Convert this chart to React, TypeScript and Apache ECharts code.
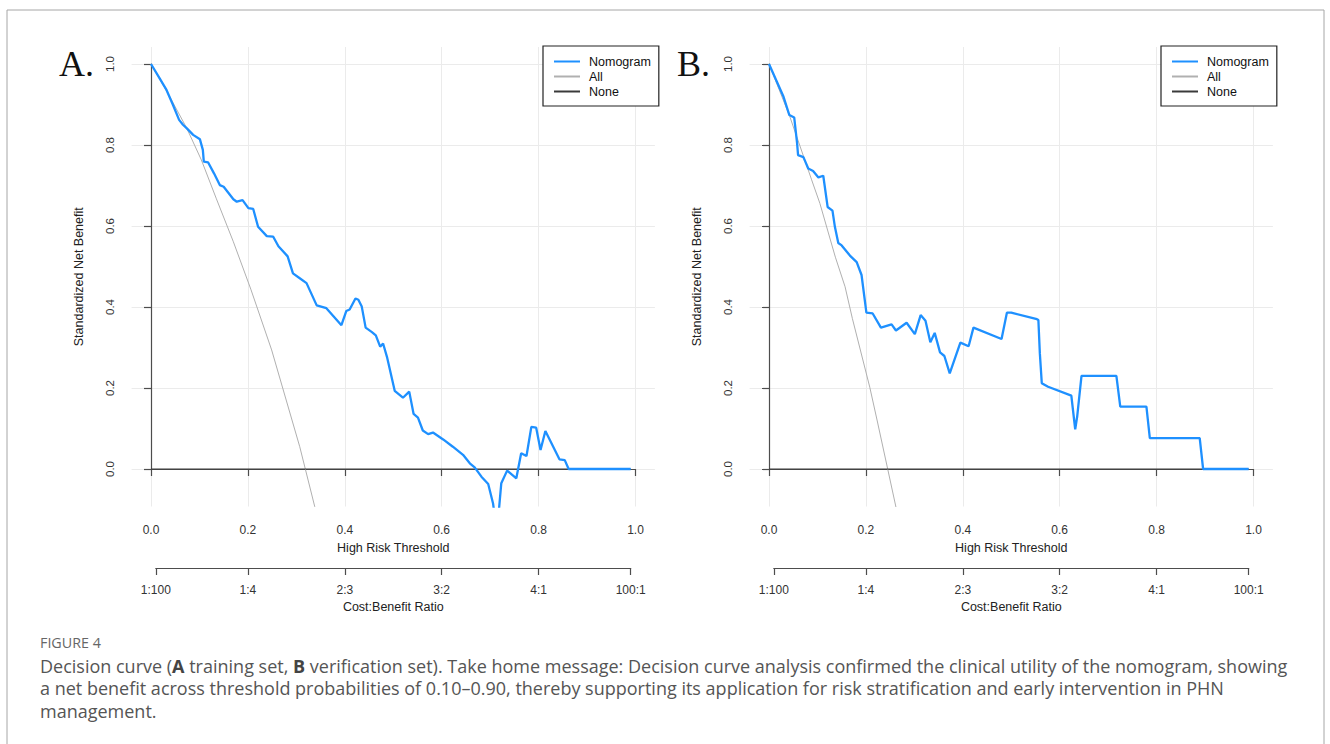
import React, { useEffect, useRef } from "react";
import * as echarts from "echarts";

// ---------- data ----------
const xTickValues = [0, 0.2, 0.4, 0.6, 0.8, 1.0];
const yTickValues = [0, 0.2, 0.4, 0.6, 0.8, 1.0];
const costPositions = [1 / 101, 0.2, 0.4, 0.6, 0.8, 100 / 101];
const costLabels = ["1:100", "1:4", "2:3", "3:2", "4:1", "100:1"];
const seriesNames = ["Nomogram", "All", "None"];

// Panel A (training set): [threshold, standardized net benefit]
const nomogramA: [number, number][] = [
  [0, 1.0], [0.016, 0.968], [0.032, 0.936], [0.045, 0.9], [0.058, 0.862], [0.066, 0.85],
  [0.074, 0.841], [0.087, 0.825], [0.101, 0.814], [0.107, 0.788], [0.109, 0.759], [0.118, 0.757],
  [0.13, 0.73], [0.142, 0.701], [0.15, 0.697], [0.17, 0.666], [0.177, 0.66], [0.189, 0.664],
  [0.201, 0.644], [0.211, 0.642], [0.221, 0.598], [0.239, 0.575], [0.252, 0.574], [0.263, 0.55],
  [0.282, 0.525], [0.293, 0.483], [0.307, 0.471], [0.321, 0.459], [0.342, 0.404], [0.362, 0.397],
  [0.393, 0.355], [0.403, 0.39], [0.41, 0.394], [0.422, 0.421], [0.428, 0.418], [0.435, 0.401],
  [0.443, 0.349], [0.456, 0.338], [0.464, 0.33], [0.473, 0.302], [0.479, 0.31], [0.487, 0.277],
  [0.503, 0.193], [0.52, 0.176], [0.533, 0.191], [0.542, 0.136], [0.551, 0.127], [0.561, 0.095],
  [0.572, 0.086], [0.582, 0.09], [0.603, 0.073], [0.623, 0.055], [0.644, 0.035], [0.658, 0.014],
  [0.668, 0.004], [0.682, -0.019], [0.696, -0.037], [0.706, -0.085], [0.711, -0.13], [0.716, -0.13],
  [0.723, -0.035], [0.735, -0.004], [0.754, -0.023], [0.764, 0.039], [0.775, 0.032], [0.785, 0.104],
  [0.795, 0.102], [0.804, 0.047], [0.814, 0.094], [0.843, 0.024], [0.854, 0.022], [0.862, 0.0],
  [0.99, 0.0],
];
const treatAllA: [number, number][] = [
  [0, 1.0], [0.037, 0.923], [0.074, 0.841], [0.104, 0.763], [0.135, 0.667], [0.17, 0.561],
  [0.206, 0.444], [0.249, 0.294], [0.307, 0.055], [0.338, -0.093], [0.345, -0.125],
];

// Panel B (verification set)
const nomogramB: [number, number][] = [
  [0, 1.0], [0.03, 0.919], [0.042, 0.874], [0.052, 0.868], [0.058, 0.804], [0.06, 0.775],
  [0.071, 0.77], [0.081, 0.742], [0.091, 0.736], [0.102, 0.72], [0.112, 0.724], [0.121, 0.647],
  [0.131, 0.638], [0.136, 0.598], [0.143, 0.558], [0.15, 0.552], [0.167, 0.527], [0.181, 0.511],
  [0.191, 0.479], [0.201, 0.386], [0.214, 0.384], [0.231, 0.349], [0.253, 0.357], [0.262, 0.342],
  [0.284, 0.361], [0.301, 0.333], [0.313, 0.38], [0.323, 0.366], [0.333, 0.313], [0.342, 0.336],
  [0.353, 0.288], [0.362, 0.279], [0.373, 0.236], [0.395, 0.312], [0.412, 0.303], [0.422, 0.349],
  [0.48, 0.321], [0.491, 0.386], [0.5, 0.386], [0.553, 0.37], [0.556, 0.368], [0.559, 0.286],
  [0.563, 0.212], [0.576, 0.203], [0.624, 0.181], [0.629, 0.129], [0.632, 0.098], [0.636, 0.129],
  [0.645, 0.23], [0.717, 0.23], [0.725, 0.154], [0.779, 0.154], [0.786, 0.076], [0.889, 0.076],
  [0.896, 0.0], [0.99, 0.0],
];
const treatAllB: [number, number][] = [
  [0, 1.0], [0.043, 0.87], [0.088, 0.714], [0.105, 0.656], [0.137, 0.523], [0.157, 0.45],
  [0.172, 0.372], [0.208, 0.202], [0.223, 0.121], [0.245, 0.0], [0.262, -0.094], [0.268, -0.13],
];

const treatNone: [number, number][] = [[0, 0], [0.99, 0]];

const captionTitle = "FIGURE 4";
const captionLines = [
  "Decision curve ({b|A} training set, {b|B} verification set). Take home message: Decision curve analysis confirmed the clinical utility of the nomogram, showing",
  "a net benefit across threshold probabilities of 0.10–0.90, thereby supporting its application for risk stratification and early intervention in PHN",
  "management.",
];

// ---------- layout ----------
const PX = 484.5; // px per unit threshold
const PY = 405; // px per unit net benefit
const X0A = 151;
const DX_B = 618;
const Y0 = 469;
const X_MIN = -0.04;
const X_MAX = 1.04;
const Y_MIN = -0.0926;
const Y_MAX = 1.042;
const COST_AXIS_Y = 568;
const FONT = "'Liberation Sans', Arial, sans-serif";
const AXIS_COLOR = "#4d4d4d";
const GRID_COLOR = "#ebebeb";

function buildPanel(i: number, x0: number, nom: [number, number][], all: [number, number][]) {
  const base = i * 4;
  const plotTop = Y0 - Y_MAX * PY;
  const plotH = (Y_MAX - Y_MIN) * PY;
  const plotLeft = x0 + X_MIN * PX;
  const plotW = (X_MAX - X_MIN) * PX;
  const grids = [
    { left: plotLeft, top: plotTop, width: plotW, height: plotH },
    { left: x0, top: plotTop, width: PX, height: plotH },
    { left: plotLeft, top: Y0 - PY, width: plotW, height: PY },
    {
      left: x0 + costPositions[0] * PX,
      top: COST_AXIS_Y - 1,
      width: (costPositions[costPositions.length - 1] - costPositions[0]) * PX,
      height: 1,
    },
  ];
  const axisLine = { show: true, lineStyle: { color: AXIS_COLOR, width: 1.2 } };
  const axisTick = { show: true, length: 7, lineStyle: { color: AXIS_COLOR, width: 1.2 } };
  const labelBase = { color: "#333", fontFamily: FONT, fontSize: 12 };
  const nameStyle = { color: "#222", fontFamily: FONT, fontSize: 12.5 };
  const xAxes = [
    { gridIndex: base, type: "value", min: X_MIN, max: X_MAX, show: false },
    {
      gridIndex: base + 1, type: "value", min: xTickValues[0], max: xTickValues[xTickValues.length - 1], interval: 0.2,
      axisLine, axisTick,
      axisLabel: { ...labelBase, margin: 17, formatter: (v: number) => v.toFixed(1) },
      splitLine: { show: true, lineStyle: { color: GRID_COLOR, width: 1 } },
      name: "High Risk Threshold", nameLocation: "middle", nameGap: 35, nameTextStyle: nameStyle,
    },
    { gridIndex: base + 2, type: "value", min: X_MIN, max: X_MAX, show: false },
    {
      gridIndex: base + 3, type: "value", min: costPositions[0], max: costPositions[costPositions.length - 1],
      axisLine,
      axisTick: { ...axisTick, customValues: costPositions },
      axisLabel: {
        ...labelBase, margin: 16, customValues: costPositions,
        formatter: (v: number) => {
          let best = 0;
          costPositions.forEach((p, k) => { if (Math.abs(p - v) < Math.abs(costPositions[best] - v)) best = k; });
          return costLabels[best];
        },
      },
      splitLine: { show: false },
      name: "Cost:Benefit Ratio", nameLocation: "middle", nameGap: 32, nameTextStyle: nameStyle,
    },
  ];
  const yAxes = [
    {
      gridIndex: base, type: "value", min: Y_MIN, max: Y_MAX,
      axisLine: { show: false }, axisTick: { show: false }, axisLabel: { show: false }, splitLine: { show: false },
      name: "Standardized Net Benefit", nameLocation: "middle", nameGap: 46, nameRotate: 90, nameTextStyle: nameStyle,
    },
    { gridIndex: base + 1, type: "value", min: Y_MIN, max: Y_MAX, show: false },
    {
      gridIndex: base + 2, type: "value", min: yTickValues[0], max: yTickValues[yTickValues.length - 1], interval: 0.2,
      axisLine, axisTick,
      axisLabel: { ...labelBase, fontSize: 11.5, rotate: 90, margin: 16, formatter: (v: number) => v.toFixed(1) },
      splitLine: { show: true, lineStyle: { color: GRID_COLOR, width: 1 } },
    },
    { gridIndex: base + 3, type: "value", min: 0, max: 1, show: false },
  ];
  const common = { type: "line", xAxisIndex: base, yAxisIndex: base, symbol: "none", showSymbol: false, clip: true, silent: true };
  const series = [
    { ...common, name: seriesNames[1], data: all, lineStyle: { color: "#b0b0b0", width: 1 }, itemStyle: { color: "#b0b0b0" } },
    { ...common, name: seriesNames[2], data: treatNone, lineStyle: { color: "#3a3a3a", width: 1.2 }, itemStyle: { color: "#3a3a3a" } },
    { ...common, name: seriesNames[0], data: nom, lineStyle: { color: "#1e90ff", width: 2.3 }, itemStyle: { color: "#1e90ff" } },
  ];
  const legend = {
    data: seriesNames,
    orient: "vertical",
    left: x0 + 392,
    top: 46,
    padding: [9, 8, 8, 10],
    itemWidth: 26,
    itemHeight: 12,
    itemGap: 2,
    borderColor: "#222",
    borderWidth: 1.2,
    borderRadius: 0,
    backgroundColor: "#fff",
    selectedMode: false,
    itemStyle: { opacity: 0 },
    textStyle: { fontFamily: FONT, fontSize: 12.5, color: "#111", lineHeight: 12, padding: [0, 0, 0, 4] },
    z: 10,
  };
  return { grids, xAxes, yAxes, series, legend };
}

export default function App() {
  const ref = useRef<HTMLDivElement>(null);
  useEffect(() => {
    if (!ref.current) return;
    const chart = echarts.init(ref.current, null, { renderer: "svg" });
    const pA = buildPanel(0, X0A, nomogramA, treatAllA);
    const pB = buildPanel(1, X0A + DX_B, nomogramB, treatAllB);
    const capFont = "'Open Sans', 'Noto Sans', sans-serif";
    const option: any = {
      animation: false,
      backgroundColor: "#fff",
      textStyle: { fontFamily: FONT },
      grid: [...pA.grids, ...pB.grids],
      xAxis: [...pA.xAxes, ...pB.xAxes],
      yAxis: [...pA.yAxes, ...pB.yAxes],
      series: [...pA.series, ...pB.series],
      legend: [pA.legend, pB.legend],
      graphic: [
        {
          type: "rect", shape: { x: 7, y: 10, width: 1317, height: 800 }, silent: true, z: -1,
          style: { fill: "none", stroke: "#a6a6a6", lineWidth: 1 },
        },
        {
          type: "text", x: 59, y: 64, silent: true,
          style: { text: "A.", fontFamily: "'Liberation Serif', 'DejaVu Serif', serif", fontSize: 36, fill: "#111", verticalAlign: "middle", textVerticalAlign: "middle" },
        },
        {
          type: "text", x: 59 + DX_B, y: 64, silent: true,
          style: { text: "B.", fontFamily: "'Liberation Serif', 'DejaVu Serif', serif", fontSize: 36, fill: "#111", verticalAlign: "middle", textVerticalAlign: "middle" },
        },
        {
          type: "text", x: 40, y: 642, silent: true,
          style: { text: captionTitle, fontFamily: capFont, fontSize: 14.3, fill: "#666", verticalAlign: "middle", textVerticalAlign: "middle" },
        },
        ...captionLines.map((t, k) => ({
          type: "text", x: 40, y: 665.5 + k * 22.5, silent: true,
          style: {
            text: t, fontFamily: capFont, fontSize: 18, fill: "#555", verticalAlign: "middle", textVerticalAlign: "middle",
            rich: { b: { fontFamily: capFont, fontSize: 18, fontWeight: "bold", fill: "#444" } },
          },
        })),
      ],
    };
    chart.setOption(option);
    return () => chart.dispose();
  }, []);
  return (
    <div
      ref={ref}
      style={{ position: "fixed", left: 0, top: 0, width: 1330, height: 744, background: "#fff" }}
    />
  );
}
